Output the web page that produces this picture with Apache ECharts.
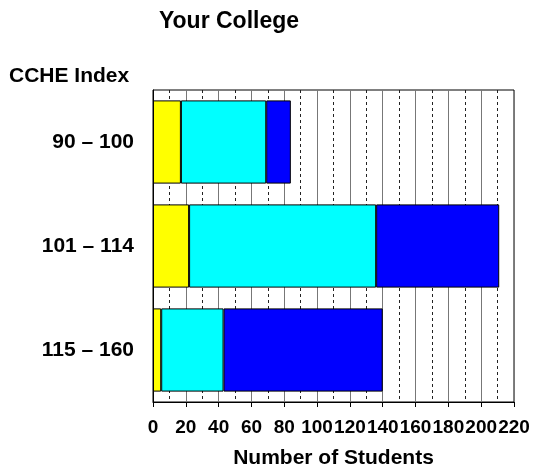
<!DOCTYPE html>
<html>
<head>
<meta charset="utf-8">
<script src="https://cdn.jsdelivr.net/npm/echarts@6/dist/echarts.min.js"></script>
<style>
  html, body { margin: 0; padding: 0; background: #fff; }
  #chart { width: 533px; height: 472px; }
</style>
</head>
<body>
<div id="chart"></div>
<script>
// CCHE index bands, top to bottom
const categories = ['90 – 100', '101 – 114', '115 – 160']
// stacked segments (students)
const yellowValues = [17, 22, 5]
const cyanValues = [52, 114, 38]
const blueValues = [15, 75, 97]

const chart = echarts.init(document.getElementById('chart'))

const font = 'Liberation Sans, Arial, sans-serif'

function segment(name, data, color) {
  return {
    name: name,
    type: 'bar',
    stack: 'total',
    data: data,
    barCategoryGap: '20%',
    itemStyle: {
      color: color,
      borderColor: '#000',
      borderWidth: 1
    }
  }
}

const option = {
  animation: false,
  backgroundColor: '#fff',
  title: [
    {
      text: 'Your College',
      left: 224,
      top: 5,
      textAlign: 'center',
      textStyle: { fontFamily: font, fontSize: 23, fontWeight: 'bold', color: '#000' }
    },
    {
      text: 'CCHE Index',
      left: 4,
      top: 61,
      textStyle: { fontFamily: font, fontSize: 21, fontWeight: 'bold', color: '#000' }
    }
  ],
  grid: {
    left: 153,
    right: 19,
    top: 90,
    bottom: 70,
    show: true,
    borderColor: '#000',
    borderWidth: 1,
    containLabel: false,
    outerBoundsMode: 'none' // keep the plot box fixed, labels may overhang
  },
  xAxis: {
    type: 'value',
    min: 0,
    max: 220,
    interval: 20,
    name: 'Number of Students',
    nameLocation: 'middle',
    nameGap: 46,
    nameTextStyle: { fontFamily: font, fontSize: 21, fontWeight: 'bold', color: '#000' },
    axisLine: { show: true, lineStyle: { color: '#000' } },
    axisTick: { show: true, length: 5, lineStyle: { color: '#000' } },
    axisLabel: {
      fontFamily: font,
      fontSize: 19,
      fontWeight: 'bold',
      color: '#000',
      margin: 16,
      hideOverlap: false
    },
    splitLine: { show: true, lineStyle: { color: '#777', width: 1 } },
    minorTick: { show: false, splitNumber: 2 },
    minorSplitLine: { show: true, lineStyle: { color: '#222', type: [3, 3], width: 1 } }
  },
  yAxis: {
    type: 'category',
    data: categories,
    inverse: true,
    axisLine: { show: true, lineStyle: { color: '#000' } },
    axisTick: { show: false },
    axisLabel: {
      fontFamily: font,
      fontSize: 21,
      fontWeight: 'bold',
      color: '#000',
      margin: 19
    },
    splitLine: { show: false }
  },
  series: [
    segment('Yellow', yellowValues, '#ffff00'),
    segment('Cyan', cyanValues, '#00ffff'),
    segment('Blue', blueValues, '#0000ff')
  ]
}

chart.setOption(option)
</script>
</body>
</html>
